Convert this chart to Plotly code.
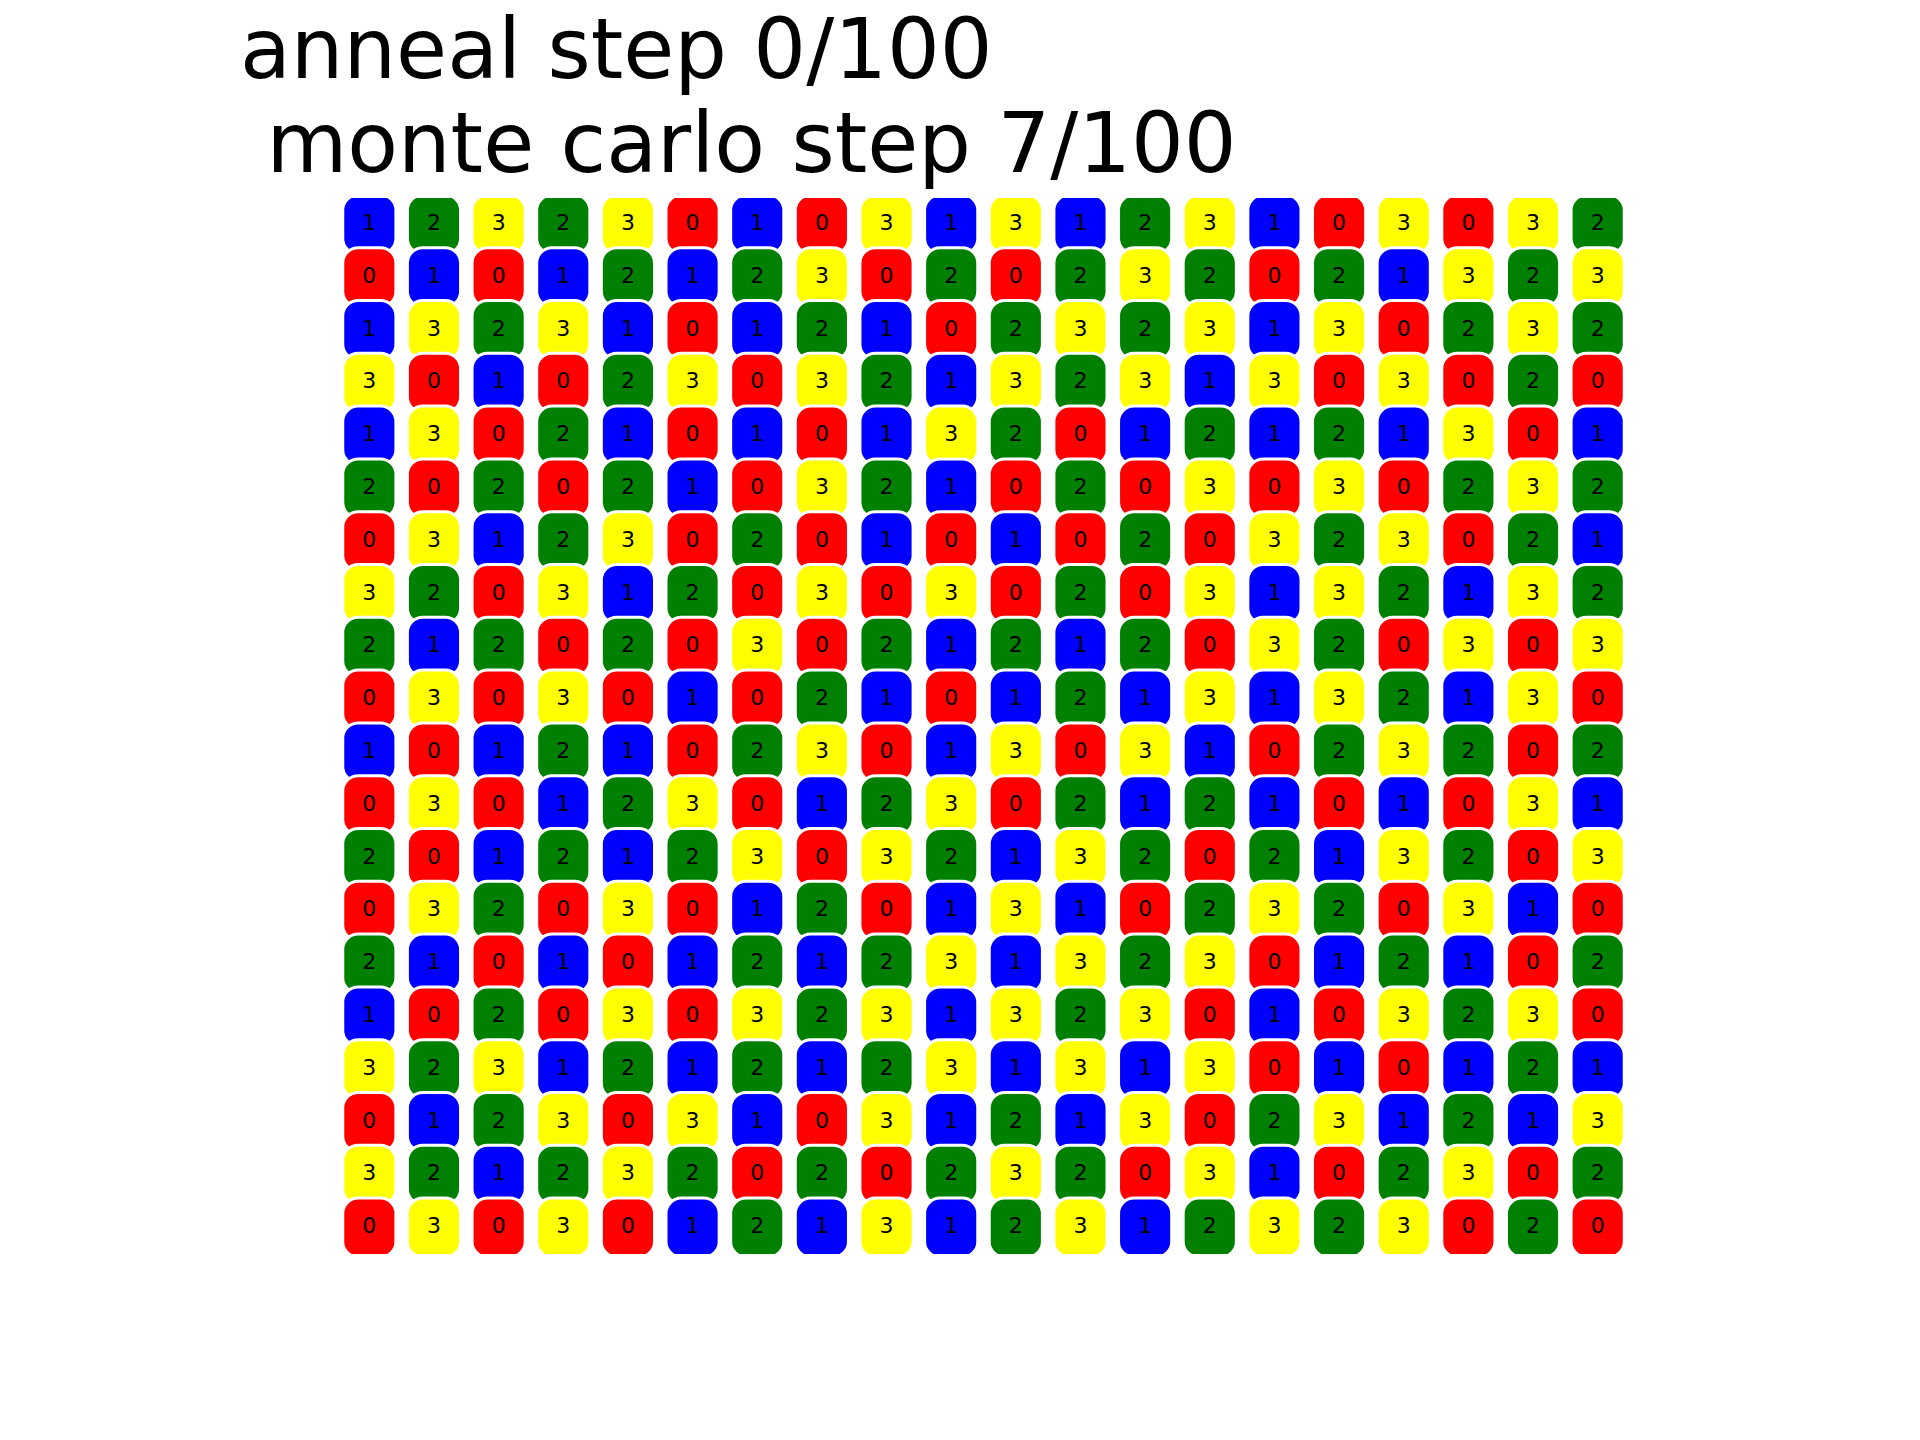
import plotly.graph_objects as go

grid_rows = [
    [1, 2, 3, 2, 3, 0, 1, 0, 3, 1, 3, 1, 2, 3, 1, 0, 3, 0, 3, 2],
    [0, 1, 0, 1, 2, 1, 2, 3, 0, 2, 0, 2, 3, 2, 0, 2, 1, 3, 2, 3],
    [1, 3, 2, 3, 1, 0, 1, 2, 1, 0, 2, 3, 2, 3, 1, 3, 0, 2, 3, 2],
    [3, 0, 1, 0, 2, 3, 0, 3, 2, 1, 3, 2, 3, 1, 3, 0, 3, 0, 2, 0],
    [1, 3, 0, 2, 1, 0, 1, 0, 1, 3, 2, 0, 1, 2, 1, 2, 1, 3, 0, 1],
    [2, 0, 2, 0, 2, 1, 0, 3, 2, 1, 0, 2, 0, 3, 0, 3, 0, 2, 3, 2],
    [0, 3, 1, 2, 3, 0, 2, 0, 1, 0, 1, 0, 2, 0, 3, 2, 3, 0, 2, 1],
    [3, 2, 0, 3, 1, 2, 0, 3, 0, 3, 0, 2, 0, 3, 1, 3, 2, 1, 3, 2],
    [2, 1, 2, 0, 2, 0, 3, 0, 2, 1, 2, 1, 2, 0, 3, 2, 0, 3, 0, 3],
    [0, 3, 0, 3, 0, 1, 0, 2, 1, 0, 1, 2, 1, 3, 1, 3, 2, 1, 3, 0],
    [1, 0, 1, 2, 1, 0, 2, 3, 0, 1, 3, 0, 3, 1, 0, 2, 3, 2, 0, 2],
    [0, 3, 0, 1, 2, 3, 0, 1, 2, 3, 0, 2, 1, 2, 1, 0, 1, 0, 3, 1],
    [2, 0, 1, 2, 1, 2, 3, 0, 3, 2, 1, 3, 2, 0, 2, 1, 3, 2, 0, 3],
    [0, 3, 2, 0, 3, 0, 1, 2, 0, 1, 3, 1, 0, 2, 3, 2, 0, 3, 1, 0],
    [2, 1, 0, 1, 0, 1, 2, 1, 2, 3, 1, 3, 2, 3, 0, 1, 2, 1, 0, 2],
    [1, 0, 2, 0, 3, 0, 3, 2, 3, 1, 3, 2, 3, 0, 1, 0, 3, 2, 3, 0],
    [3, 2, 3, 1, 2, 1, 2, 1, 2, 3, 1, 3, 1, 3, 0, 1, 0, 1, 2, 1],
    [0, 1, 2, 3, 0, 3, 1, 0, 3, 1, 2, 1, 3, 0, 2, 3, 1, 2, 1, 3],
    [3, 2, 1, 2, 3, 2, 0, 2, 0, 2, 3, 2, 0, 3, 1, 0, 2, 3, 0, 2],
    [0, 3, 0, 3, 0, 1, 2, 1, 3, 1, 2, 3, 1, 2, 3, 2, 3, 0, 2, 0],
]
state_colors = ["#ff0000", "#0000ff", "#008000", "#ffff00"]
title_line1 = "anneal step 0/100"
title_line2 = " monte carlo step 7/100"

n_rows = len(grid_rows)
n_cols = len(grid_rows[0])

# layout in pixels
W, H = 1920, 1440
ml, mr, mt, mb = 336.65, 289.7, 198.3, 185.7
plot_h = H - mt - mb

hx, hy = 0.411, 0.559     # half sizes in data units
rx, ry = 0.24, 0.29       # corner radii in data units
k = 0.5523


def rounded_path(cx, cy):
    x0, x1 = cx - hx, cx + hx
    y0, y1 = cy - hy, cy + hy
    p = []
    p.append(f"M{x0+rx},{y0}")
    p.append(f"L{x1-rx},{y0}")
    p.append(f"C{x1-rx+k*rx},{y0} {x1},{y0+ry-k*ry} {x1},{y0+ry}")
    p.append(f"L{x1},{y1-ry}")
    p.append(f"C{x1},{y1-ry+k*ry} {x1-rx+k*rx},{y1} {x1-rx},{y1}")
    p.append(f"L{x0+rx},{y1}")
    p.append(f"C{x0+rx-k*rx},{y1} {x0},{y1-ry+k*ry} {x0},{y1-ry}")
    p.append(f"L{x0},{y0+ry}")
    p.append(f"C{x0},{y0+ry-k*ry} {x0+rx-k*rx},{y0} {x0+rx},{y0}")
    p.append("Z")
    return " ".join(p)


shapes = []
xs, ys, texts = [], [], []
for r, row in enumerate(grid_rows):
    for c, v in enumerate(row):
        shapes.append(dict(
            type="path", xref="x", yref="y", path=rounded_path(c, r),
            fillcolor=state_colors[v], line=dict(color="white", width=3),
            layer="below",
        ))
        xs.append(c)
        ys.append(r)
        texts.append(str(v))

fig = go.Figure()
fig.add_trace(go.Scatter(
    x=xs, y=ys, text=texts, mode="text", textposition="middle center",
    textfont=dict(family="DejaVu Sans", size=22, color="black"),
    hoverinfo="skip", showlegend=False,
))


def py(pix):
    return (H - mb - pix) / plot_h


def px(pix):
    return (pix - ml) / (W - ml - mr)


annotations = [
    dict(text=title_line1,
         xref="paper", yref="paper", x=px(238), y=py(50),
         xanchor="left", yanchor="middle", showarrow=False,
         font=dict(family="DejaVu Sans", size=83, color="black")),
    dict(text="&nbsp;" + title_line2.lstrip(" "),
         xref="paper", yref="paper", x=px(238), y=py(144),
         xanchor="left", yanchor="middle", showarrow=False,
         font=dict(family="DejaVu Sans", size=83, color="black")),
]

fig.update_layout(
    width=W, height=H, autosize=False,
    margin=dict(l=ml, r=mr, t=mt, b=mb, pad=0),
    paper_bgcolor="white", plot_bgcolor="white",
    shapes=shapes, annotations=annotations,
    xaxis=dict(range=[-0.5, n_cols - 0.5], visible=False, showgrid=False, zeroline=False),
    yaxis=dict(range=[n_rows - 0.5, -0.5], visible=False, showgrid=False, zeroline=False),
)

fig.write_html("out.html")
